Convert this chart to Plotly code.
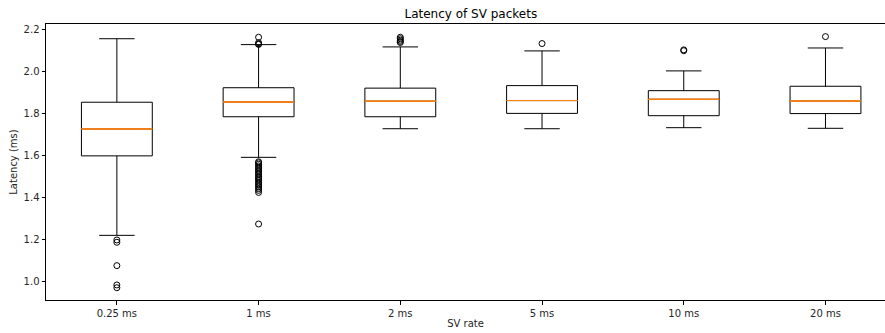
import plotly.graph_objects as go

categories = ["0.25 ms", "1 ms", "2 ms", "5 ms", "10 ms", "20 ms"]
lower_whisker = [1.220, 1.591, 1.727, 1.727, 1.732, 1.729]
q1 = [1.598, 1.784, 1.784, 1.800, 1.789, 1.799]
median = [1.726, 1.854, 1.858, 1.861, 1.867, 1.859]
q3 = [1.853, 1.922, 1.920, 1.932, 1.908, 1.929]
upper_whisker = [2.155, 2.127, 2.116, 2.097, 2.002, 2.111]

outliers_025 = [1.198, 1.187, 1.076, 0.984, 0.971]
outliers_1 = [2.162, 2.136, 2.130, 2.128,
              1.570, 1.565, 1.558, 1.550, 1.543, 1.536, 1.529, 1.522, 1.515,
              1.508, 1.500, 1.494, 1.488, 1.480, 1.472, 1.465, 1.458, 1.450,
              1.442, 1.434, 1.424, 1.274]
outliers_2 = [2.162, 2.155, 2.148, 2.142, 2.137]
outliers_5 = [2.132]
outliers_10 = [2.102, 2.098]
outliers_20 = [2.165]
outliers = [outliers_025, outliers_1, outliers_2, outliers_5, outliers_10, outliers_20]

positions = list(range(1, len(categories) + 1))

fig = go.Figure()
fig.add_trace(go.Box(
    x=positions, q1=q1, median=median, q3=q3,
    lowerfence=lower_whisker, upperfence=upper_whisker,
    width=0.5, whiskerwidth=0.5, boxpoints=False,
    line=dict(color="black", width=1), fillcolor="rgba(0,0,0,0)",
    hoverinfo="skip", showlegend=False,
))
fig.add_trace(go.Box(
    x=positions, q1=median, median=median, q3=median,
    lowerfence=median, upperfence=median,
    width=0.5, whiskerwidth=0, boxpoints=False,
    line=dict(color="#ff7f0e", width=1), fillcolor="rgba(0,0,0,0)",
    hoverinfo="skip", showlegend=False,
))
ox, oy = [], []
for p, vals in zip(positions, outliers):
    ox += [p] * len(vals)
    oy += vals
fig.add_trace(go.Scatter(
    x=ox, y=oy, mode="markers",
    marker=dict(symbol="circle-open", size=6, color="black", line=dict(width=1)),
    showlegend=False, hoverinfo="skip",
))

font = "DejaVu Sans, sans-serif"
fig.update_layout(
    width=885, height=333,
    margin=dict(l=46, r=0, t=24, b=33),
    paper_bgcolor="white", plot_bgcolor="white",
    boxmode="overlay",
    font=dict(family=font, size=10, color="#262626"),
    title=dict(text="Latency of SV packets", x=0.532, xanchor="center",
               y=1 - 14 / 333, yanchor="middle", font=dict(size=12, color="black")),
    xaxis=dict(
        range=[0.5, 6.42], tickvals=positions, ticktext=categories,
        showgrid=False, zeroline=False, showline=True, linecolor="black",
        linewidth=1, mirror=True, ticks="outside", ticklen=3.5, tickcolor="black",
        title=dict(text="SV rate", standoff=2, font=dict(size=10)),
    ),
    yaxis=dict(
        range=[0.9126, 2.225], tickvals=[1.0, 1.2, 1.4, 1.6, 1.8, 2.0, 2.2],
        tickformat=".1f",
        showgrid=False, zeroline=False, showline=True, linecolor="black",
        linewidth=1, mirror=False, ticks="outside", ticklen=3.5, tickcolor="black",
        title=dict(text="Latency (ms)", standoff=4, font=dict(size=10)),
    ),
)

fig.write_html("out.html", config={"displayModeBar": False},
               post_script="document.body.style.margin='0';document.body.style.overflow='hidden';")
